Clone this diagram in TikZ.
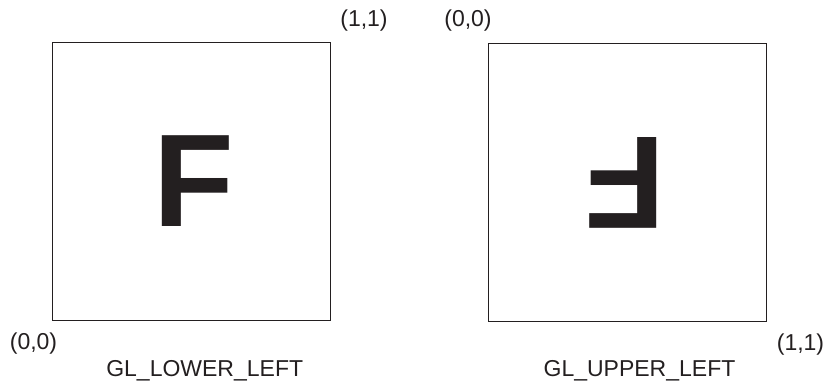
\documentclass[tikz,border=0pt]{standalone}
\usepackage{fontspec}
\setmainfont{Liberation Sans}
\definecolor{glInk}{RGB}{35,31,32}
\usetikzlibrary{positioning}

\begin{document}
\begin{tikzpicture}[x=1pt,y=-1pt,
  frame/.style={draw=glInk,line width=0.8pt,minimum size=278pt,inner sep=0pt},
  corner/.style={font=\fontsize{23}{27}\selectfont,text=glInk,inner sep=0pt},
  mode/.style={font=\fontsize{23}{27}\selectfont,text=glInk,inner sep=0pt,anchor=base},
  glyph/.style={font=\fontsize{132}{133}\selectfont\bfseries,text=glInk,inner sep=0pt}]
  \useasboundingbox (0,0) rectangle (825,381);
  % lower-left origin
  \node[frame] (lower) at (191,181) {};
  \node[glyph] (flower) at (194,181) {F};
  \node[corner] (lowerorigin) at (33.5,344) {(0,0)};
  \node[corner] (lowerend) at (364,21) {(1,1)};
  \node[mode] (lowername) at (204.7,376) {GL\_LOWER\_LEFT};
  % upper-left origin
  \node[frame] (upper) at (627.5,182.5) {};
  \node[glyph,rotate=180] (fupper) at (625,183) {F};
  \node[corner] (upperorigin) at (468,21) {(0,0)};
  \node[corner] (upperend) at (800.5,345) {(1,1)};
  \node[mode] (uppername) at (639.5,376) {GL\_UPPER\_LEFT};
\end{tikzpicture}
\end{document}
